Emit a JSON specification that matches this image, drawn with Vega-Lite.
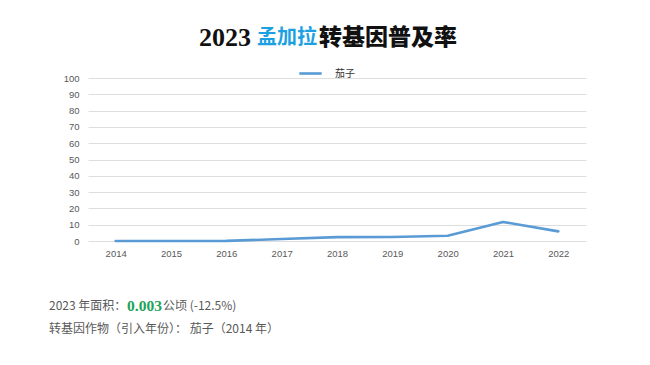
{
  "$schema": "https://vega.github.io/schema/vega-lite/v6.json",
  "autosize": "none",
  "width": 498,
  "height": 163,
  "padding": {"left": 88, "top": 78, "right": 64, "bottom": 124},
  "background": "white",
  "config": {"view": {"stroke": null}},
  "data": {"values": [
    {"year": "2014", "rate": 0, "crop": "茄子"},
    {"year": "2015", "rate": 0, "crop": "茄子"},
    {"year": "2016", "rate": 0.1, "crop": "茄子"},
    {"year": "2017", "rate": 1.2, "crop": "茄子"},
    {"year": "2018", "rate": 2.4, "crop": "茄子"},
    {"year": "2019", "rate": 2.5, "crop": "茄子"},
    {"year": "2020", "rate": 3.2, "crop": "茄子"},
    {"year": "2021", "rate": 11.7, "crop": "茄子"},
    {"year": "2022", "rate": 5.9, "crop": "茄子"}
  ]},
  "layer": [
    {
      "mark": {"type": "line", "strokeWidth": 2.6, "strokeCap": "round", "strokeJoin": "round"},
      "encoding": {
        "x": {"field": "year", "type": "ordinal", "scale": {"type": "point", "padding": 0.5},
          "axis": {"title": null, "labelAngle": 0, "domain": false, "ticks": false, "grid": false,
            "labelColor": "#595959", "labelFont": "Liberation Sans", "labelFontSize": 9.5, "labelPadding": 7}},
        "y": {"field": "rate", "type": "quantitative", "scale": {"domain": [0, 100], "nice": false},
          "axis": {"title": null, "values": [0, 10, 20, 30, 40, 50, 60, 70, 80, 90, 100],
            "domain": false, "ticks": false, "gridColor": "#dedede", "gridWidth": 1,
            "labelColor": "#595959", "labelFont": "Liberation Sans", "labelFontSize": 9.5, "labelPadding": 9}},
        "color": {"field": "crop", "type": "nominal", "scale": {"range": ["#5b9bd5"]},
          "legend": {"title": null, "orient": "none", "legendX": 210, "legendY": -17,
            "symbolType": "stroke", "symbolSize": 500, "symbolStrokeWidth": 2.6,
            "labelFont": "Noto Sans CJK SC", "labelFontSize": 10, "labelColor": "#333333", "labelOffset": 12}}
      }
    },
    {
      "data": {"values": [{"t": "2023"}]},
      "mark": {"type": "text", "align": "right", "baseline": "middle", "font": "Liberation Serif", "fontWeight": "bold", "fontSize": 26, "color": "#111111"},
      "encoding": {"text": {"field": "t"}, "x": {"value": 163}, "y": {"value": -40}}
    },
    {
      "data": {"values": [{"t": "孟加拉"}]},
      "mark": {"type": "text", "align": "center", "baseline": "middle", "font": "Noto Sans CJK SC", "fontWeight": "bold", "fontSize": 20, "color": "#1ba1e2"},
      "encoding": {"text": {"field": "t"}, "x": {"value": 199}, "y": {"value": -40}}
    },
    {
      "data": {"values": [{"t": "转基因普及率"}]},
      "mark": {"type": "text", "align": "left", "baseline": "middle", "font": "Noto Sans CJK SC", "fontWeight": 900, "fontSize": 23, "color": "#111111"},
      "encoding": {"text": {"field": "t"}, "x": {"value": 231}, "y": {"value": -40}}
    },
    {
      "data": {"values": [{"t": "2023 年面积："}]},
      "mark": {"type": "text", "align": "left", "baseline": "middle", "font": "Noto Sans CJK SC", "fontSize": 12, "color": "#595959"},
      "encoding": {"text": {"field": "t"}, "x": {"value": -39}, "y": {"value": 228}}
    },
    {
      "data": {"values": [{"t": "0.003"}]},
      "mark": {"type": "text", "align": "left", "baseline": "middle", "font": "Liberation Serif", "fontWeight": "bold", "fontSize": 15.5, "color": "#22a35a"},
      "encoding": {"text": {"field": "t"}, "x": {"value": 39}, "y": {"value": 228}}
    },
    {
      "data": {"values": [{"t": "公顷 (-12.5%)"}]},
      "mark": {"type": "text", "align": "left", "baseline": "middle", "font": "Noto Sans CJK SC", "fontSize": 12, "color": "#595959"},
      "encoding": {"text": {"field": "t"}, "x": {"value": 75}, "y": {"value": 228}}
    },
    {
      "data": {"values": [{"t": "转基因作物（引入年份）： 茄子（2014 年）"}]},
      "mark": {"type": "text", "align": "left", "baseline": "middle", "font": "Noto Sans CJK SC", "fontSize": 12, "color": "#595959"},
      "encoding": {"text": {"field": "t"}, "x": {"value": -39}, "y": {"value": 251}}
    }
  ]
}
